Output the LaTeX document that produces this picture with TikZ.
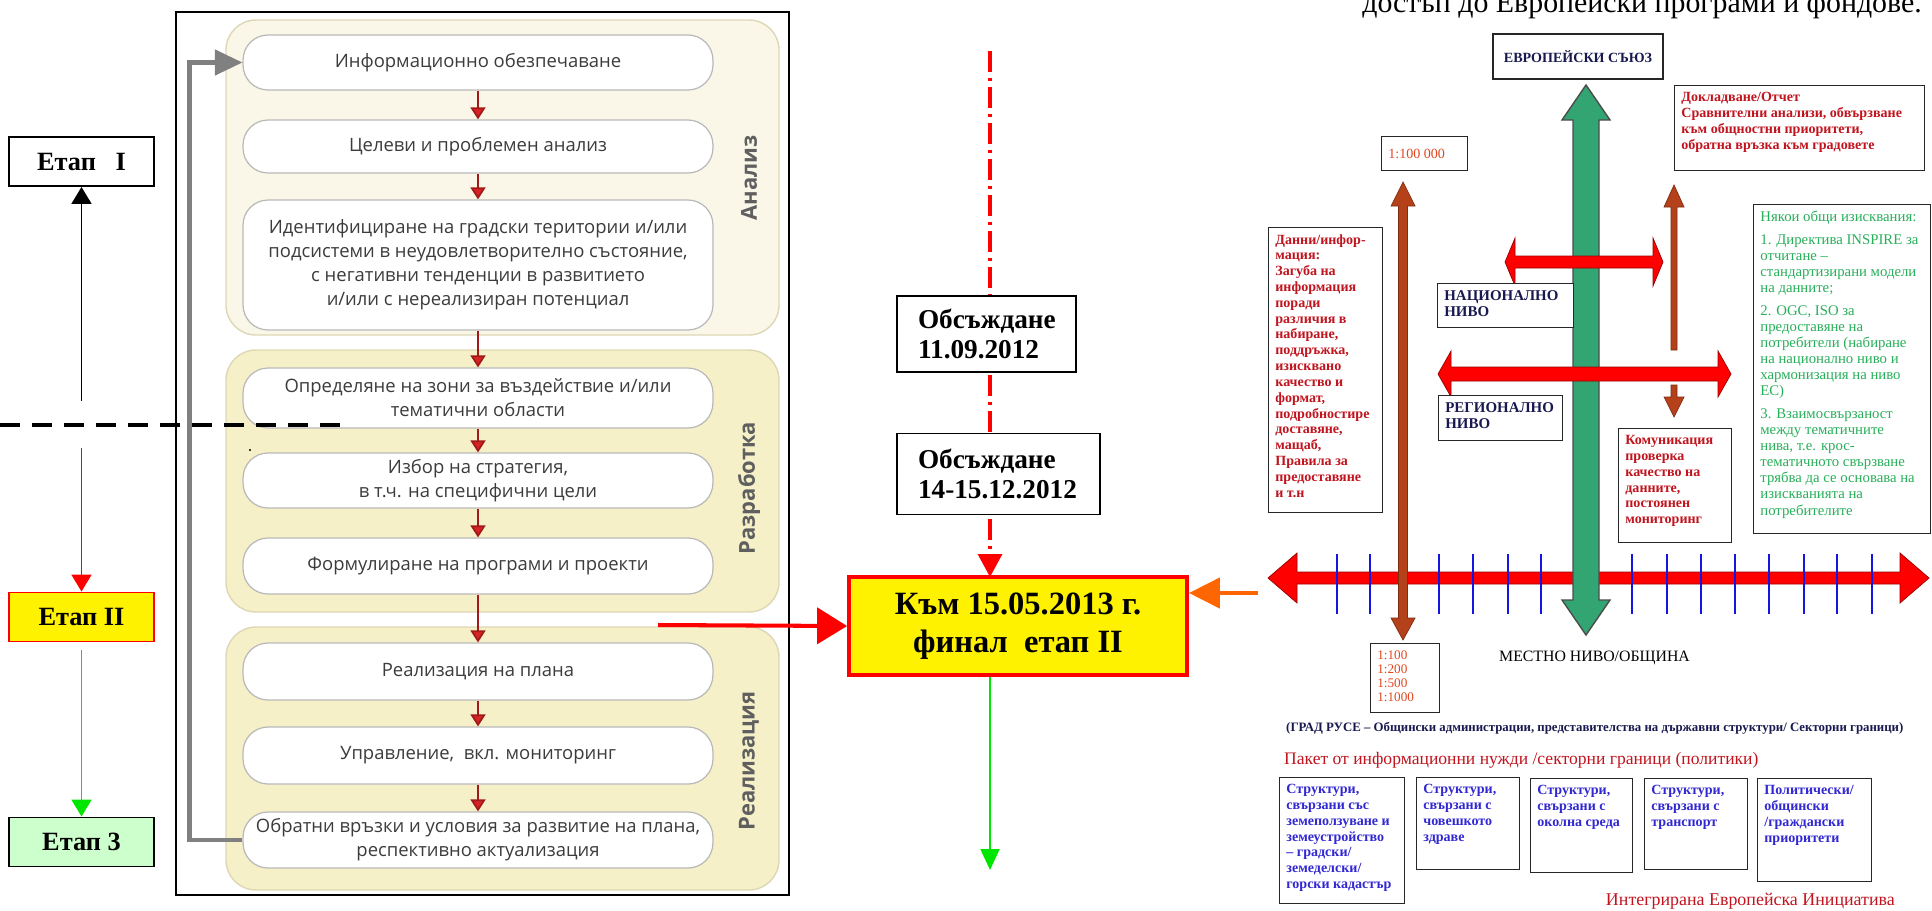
\documentclass[tikz,border=0pt]{standalone}
\usepackage{fontspec}
\setmainfont{Liberation Serif}
\newfontfamily\flowfont{Open Sans}
\usetikzlibrary{positioning, calc, arrows.meta}

\definecolor{flowline}{RGB}{185,185,185}
\definecolor{flowtext}{RGB}{60,60,60}
\definecolor{flowlbl}{RGB}{95,95,95}
\definecolor{panelA}{RGB}{250,247,233}
\definecolor{panelB}{RGB}{246,240,200}
\definecolor{panelline}{RGB}{222,215,180}
\definecolor{flowred}{RGB}{215,35,35}
\definecolor{fbgray}{RGB}{128,128,128}
\definecolor{etapgreen}{RGB}{204,255,204}
\definecolor{arrgreen}{RGB}{0,230,0}
\definecolor{arrorange}{RGB}{255,102,0}
\definecolor{txtred}{RGB}{192,20,30}
\definecolor{txtgreen}{RGB}{40,175,90}
\definecolor{txtblue}{RGB}{50,40,210}
\definecolor{txtnavy}{RGB}{25,25,80}
\definecolor{txtorange}{RGB}{225,70,30}
\definecolor{blockbrown}{RGB}{180,65,25}
\definecolor{blockgreen}{RGB}{50,165,115}
\definecolor{tickblue}{RGB}{20,20,230}

\newcommand{\rsmall}{\fontsize{8}{9}\selectfont}
% block arrows: x, y top, y bottom, shaft half, top head half, top head length, bottom head half, bottom head length
\newcommand{\vblockarrow}[9][]{%
  \draw[#1] (#2,#3) -- ({#2+#6},{#3+#7}) -- ({#2+#5},{#3+#7}) -- ({#2+#5},{#4-#9}) -- ({#2+#8},{#4-#9}) -- (#2,#4)
    -- ({#2-#8},{#4-#9}) -- ({#2-#5},{#4-#9}) -- ({#2-#5},{#3+#7}) -- ({#2-#6},{#3+#7}) -- cycle;}
% y, x left, x right, shaft half, left head half, left head length, right head half, right head length
\newcommand{\hblockarrow}[9][]{%
  \draw[#1] (#3,#2) -- ({#3+#7},{#2-#6}) -- ({#3+#7},{#2-#5}) -- ({#4-#9},{#2-#5}) -- ({#4-#9},{#2-#8}) -- (#4,#2)
    -- ({#4-#9},{#2+#8}) -- ({#4-#9},{#2+#5}) -- ({#3+#7},{#2+#5}) -- ({#3+#7},{#2+#6}) -- cycle;}

\begin{document}
\begin{tikzpicture}[x=0.02cm, y=-0.02cm,
  flowbox/.style={draw=flowline, fill=white, line width=0.7pt, rounded corners=0.5cm, minimum width=9.4cm, align=center, text=flowtext, font=\flowfont\fontsize{10.5}{13.6}\selectfont},
  flowarr/.style={draw=flowred!75!black, line width=1pt, -{Triangle[width=0.3cm, length=0.24cm, fill=flowred]}},
  panel/.style={draw=panelline, line width=0.8pt, rounded corners=0.6cm},
  stagelbl/.style={rotate=90, text=flowlbl, font=\flowfont\bfseries\fontsize{12.5}{15}\selectfont},
  etap/.style={draw, line width=1.1pt, minimum width=2.9cm, minimum height=0.98cm, font=\bfseries\fontsize{15}{18}\selectfont},
  meet/.style={draw, fill=white, line width=1.1pt, align=left, inner xsep=0.42cm, font=\bfseries\fontsize{15.5}{17}\selectfont},
  rbox/.style={draw=black!85, fill=white, line width=0.8pt, anchor=north west, inner sep=0pt},
  rtext/.style={anchor=north west, align=left, inner sep=0.14cm, font=\rsmall\bfseries},
  redblock/.style={fill=red, draw=red!60!black, line width=0.4pt},
  brownblock/.style={fill=blockbrown, draw=blockbrown!70!black, line width=0.4pt},
  greenblock/.style={fill=blockgreen, draw=black!70, line width=0.8pt},
  scaletick/.style={tickblue, line width=1.6pt}]
\useasboundingbox (0,0) rectangle (1932,910);

% flowchart of the plan
\draw[line width=1.1pt] (176,12) rectangle (789,895);
\draw[panel, fill=panelA] (226,20) rectangle (779,335);
\draw[panel, fill=panelB] (226,350) rectangle (779,612);
\draw[panel, fill=panelB] (226,627) rectangle (779,890);

\node[flowbox, minimum height=1.1cm] (info) at (478,62.5) {Информационно обезпечаване};
\node[flowbox, minimum height=1.06cm] (goal) at (478,146.5) {Целеви и проблемен анализ};
\node[flowbox, minimum height=2.6cm] (ident) at (478,265) {Идентифициране на градски територии и/или\\подсистеми в неудовлетворително състояние,\\с негативни тенденции в развитието\\и/или с нереализиран потенциал};
\node[flowbox, minimum height=1.2cm] (zones) at (478,398) {Определяне на зони за въздействие и/или\\тематични области};
\node[flowbox, minimum height=1.1cm] (strat) at (478,480.5) {Избор на стратегия,\\в т.ч. на специфични цели};
\node[flowbox, minimum height=1.12cm] (progr) at (478,566) {Формулиране на програми и проекти};
\node[flowbox, minimum height=1.14cm] (impl) at (478,671.5) {Реализация на плана};
\node[flowbox, minimum height=1.14cm] (manage) at (478,755.5) {Управление,\ \ вкл. мониторинг};
\node[flowbox, minimum height=1.12cm] (feedb) at (478,840) {Обратни връзки и условия за развитие на плана,\\респективно актуализация};

\node[stagelbl] (lblan) at (749,178) {Анализ};
\node[stagelbl] (lbldev) at (749,488) {Разработка};
\node[stagelbl] (lblreal) at (749,761) {Реализация};

\draw[flowarr] (info) -- (goal);
\draw[flowarr] (goal) -- (ident);
\draw[flowarr] (ident) -- (zones);
\draw[flowarr] (zones) -- (strat);
\draw[flowarr] (strat) -- (progr);
\draw[flowarr] (progr) -- (impl);
\draw[flowarr] (impl) -- (manage);
\draw[flowarr] (manage) -- (feedb);
\draw[fbgray, line width=2.6pt, -{Triangle[width=0.5cm, length=0.55cm]}] (feedb.west) -- ++(-53,0) |- (info.west);
\fill (250,450) circle (0.6pt);

% stages
\node[etap, fill=white] (etap1) at (81.5,161.5) {Етап\ \ \ I};
\node[etap, draw=red, fill=yellow] (etap2) at (81.5,617) {Етап II};
\node[etap, fill=etapgreen] (etap3) at (81.5,842) {Етап 3};
\coordinate (up1) at (81.5,401);
\coordinate (down2) at (81.5,448);
\coordinate (down3) at (81.5,650);
\draw[line width=1.1pt, -{Triangle[width=0.4cm, length=0.34cm]}] (up1) -- (etap1);
\draw[red, line width=1.1pt, -{Triangle[width=0.4cm, length=0.34cm]}] (down2) -- (etap2);
\draw[arrgreen, line width=1.1pt, -{Triangle[width=0.4cm, length=0.34cm]}] (down3) -- (etap3);
\coordinate (cutl) at (0,425);
\coordinate (cutr) at (347,425);
\draw[line width=2pt, dash pattern=on 0.4cm off 0.24cm] (cutl) -- (cutr);

% timeline
\coordinate (ddtop) at (990,51);
\coordinate (ddend) at (990,577);
\draw[red, line width=1.8pt, dash pattern=on 0.42cm off 0.12cm on 0.06cm off 0.12cm, -{Triangle[width=0.48cm, length=0.46cm]}] (ddtop) -- (ddend);
\node[meet, text width=2.74cm, minimum height=1.52cm] (meet1) at (986.5,334) {Обсъждане\\11.09.2012};
\node[meet, text width=3.22cm, minimum height=1.62cm] (meet2) at (998.5,474) {Обсъждане\\14-15.12.2012};
\node[draw=red, fill=yellow, line width=2.2pt, minimum width=6.76cm, minimum height=1.96cm, align=center, font=\bfseries\fontsize{18.5}{21.5}\selectfont] (final) at (1018,626) {Към 15.05.2013 г.\\финал\ \ етап II};
\coordinate (redfrom) at (658,625);
\coordinate (orfrom) at (1258,593);
\coordinate (grend) at (990,870);
\draw[red, line width=2.3pt, -{Triangle[width=0.72cm, length=0.6cm]}] (redfrom) -- (final.west);
\draw[arrorange, line width=2.6pt, -{Triangle[width=0.6cm, length=0.62cm]}] (orfrom) -- (orfrom -| final.east);
\draw[arrgreen, line width=1.1pt, -{Triangle[width=0.38cm, length=0.42cm]}] (grend |- final.south) -- (grend);

% levels scheme
\node[anchor=base east, font=\fontsize{17}{20}\selectfont] (title) at (1928,12) {достъп до Европейски програми и фондове.};
\hblockarrow[redblock]{578}{1268}{1929}{6}{25}{29}{25}{29}
\foreach \tx in {1337,1370,1405,1439,1473,1508,1541,1632,1667,1701,1735,1769,1804,1837,1872}
  \draw[scaletick] (\tx,554) -- (\tx,614);
\vblockarrow[brownblock]{1403}{182}{640}{4.5}{12}{24}{12}{22}
\vblockarrow[greenblock]{1586}{85}{635}{13}{24}{35}{24}{35}
\vblockarrow[brownblock]{1674}{185}{350}{3}{10}{22}{3}{0}
\vblockarrow[brownblock]{1674}{385}{417}{3}{3}{0}{10}{20}
\hblockarrow[redblock]{262}{1505}{1663}{6}{24}{10}{24}{10}
\hblockarrow[redblock]{374}{1438}{1731}{7}{23}{13}{23}{13}

\node[rbox, anchor=center, minimum width=3.4cm, minimum height=0.9cm, text=txtnavy, font=\fontsize{8}{9}\selectfont\bfseries] (eu) at (1578,56.5) {ЕВРОПЕЙСКИ СЪЮЗ};
\node[rbox, minimum width=5cm, minimum height=1.7cm] (report) at (1674,85) {};
\node[rtext, text=txtred] (reporttxt) at (report.north west) {Докладване/Отчет\\Сравнителни анализи, обвързване\\към общностни приоритети,\\обратна връзка към градовете};
\node[rbox, minimum width=1.72cm, minimum height=0.68cm] (scaletop) at (1381,136) {};
\node[rtext, anchor=west, text=txtorange, font=\rsmall] (scaletoptxt) at (scaletop.west) {1:100 000};
\node[rbox, minimum width=2.28cm, minimum height=5.7cm] (data) at (1268,227) {};
\node[rtext, text=txtred] (datatxt) at (data.north west) {Данни/инфор-\\мация:\\Загуба на\\информация\\поради\\различия в\\набиране,\\поддръжка,\\изисквано\\качество и\\формат,\\подробностире\\доставяне,\\мащаб,\\Правила за\\предоставяне\\и т.н};
\node[rbox, minimum width=2.72cm, minimum height=0.88cm] (national) at (1437,283) {};
\node[rtext, text=txtnavy, font=\fontsize{8.5}{9}\selectfont\bfseries] (nattxt) at (national.north west) {НАЦИОНАЛНО\\НИВО};
\node[rbox, minimum width=2.48cm, minimum height=0.9cm] (regional) at (1438,395) {};
\node[rtext, text=txtnavy, font=\fontsize{8.5}{9}\selectfont\bfseries] (regtxt) at (regional.north west) {РЕГИОНАЛНО\\НИВО};
\node[rbox, minimum width=2.26cm, minimum height=2.28cm] (comm) at (1618,428) {};
\node[rtext, text=txtred] (commtxt) at (comm.north west) {Комуникация\\проверка\\качество на\\данните,\\постоянен\\мониторинг};
\node[rbox, minimum width=3.54cm, minimum height=6.58cm] (req) at (1753,204) {};
\node[rtext, text=txtgreen, font=\fontsize{8.4}{9.2}\selectfont] (reqtxt) at (req.north west) {Някои общи изисквания:\\[3.5pt]1. Директива INSPIRE за\\отчитане –\\стандартизирани модели\\на данните;\\[3.5pt]2. OGC, ISO за\\предоставяне на\\потребители (набиране\\на национално ниво и\\хармонизация на ниво\\ЕС)\\[3.5pt]3. Взаимосвързаност\\между тематичните\\нива, т.е. крос-\\тематичното свързване\\трябва да се основава на\\изискванията на\\потребителите};
\node[rbox, minimum width=1.38cm, minimum height=1.38cm] (scalelow) at (1370,643) {};
\node[rtext, text=txtorange, font=\fontsize{7.5}{8}\selectfont] (scalelowtxt) at (scalelow.north west) {1:100\\1:200\\1:500\\1:1000};
\node[anchor=west, font=\fontsize{9}{11}\selectfont] (local) at (1493,658) {МЕСТНО НИВО/ОБЩИНА};
\node[anchor=west, text=txtnavy, font=\fontsize{7.3}{9}\selectfont\bfseries] (city) at (1280,728) {(ГРАД РУСЕ – Общински администрации, представителства на държавни структури/ Секторни граници)};
\node[anchor=west, text=txtred, font=\fontsize{10}{12}\selectfont] (package) at (1278,760) {Пакет от информационни нужди /секторни граници (политики)};

\node[rbox, minimum width=2.5cm, minimum height=2.52cm] (need1) at (1279,777) {};
\node[rtext, text=txtblue, font=\fontsize{8}{9}\selectfont\bfseries] (need1txt) at (need1.north west) {Структури,\\свързани със\\земеползуване и\\земеустройство\\– градски/\\земеделски/\\горски кадастър};
\node[rbox, minimum width=2.06cm, minimum height=1.84cm] (need2) at (1416,777) {};
\node[rtext, text=txtblue, font=\fontsize{8}{9}\selectfont\bfseries] (need2txt) at (need2.north west) {Структури,\\свързани с\\човешкото\\здраве};
\node[rbox, minimum width=2.04cm, minimum height=1.88cm] (need3) at (1530,778) {};
\node[rtext, text=txtblue, font=\fontsize{8}{9}\selectfont\bfseries] (need3txt) at (need3.north west) {Структури,\\свързани с\\околна среда};
\node[rbox, minimum width=2.06cm, minimum height=1.82cm] (need4) at (1644,778) {};
\node[rtext, text=txtblue, font=\fontsize{8}{9}\selectfont\bfseries] (need4txt) at (need4.north west) {Структури,\\свързани с\\транспорт};
\node[rbox, minimum width=2.28cm, minimum height=2.06cm] (need5) at (1757,778) {};
\node[rtext, text=txtblue, font=\fontsize{8}{9}\selectfont\bfseries] (need5txt) at (need5.north west) {Политически/\\общински\\/граждански\\приоритети};
\node[anchor=east, text=txtred, font=\fontsize{10.2}{12}\selectfont] (initiative) at (1901,901) {Интегрирана Европейска Инициатива};
\end{tikzpicture}
\end{document}
